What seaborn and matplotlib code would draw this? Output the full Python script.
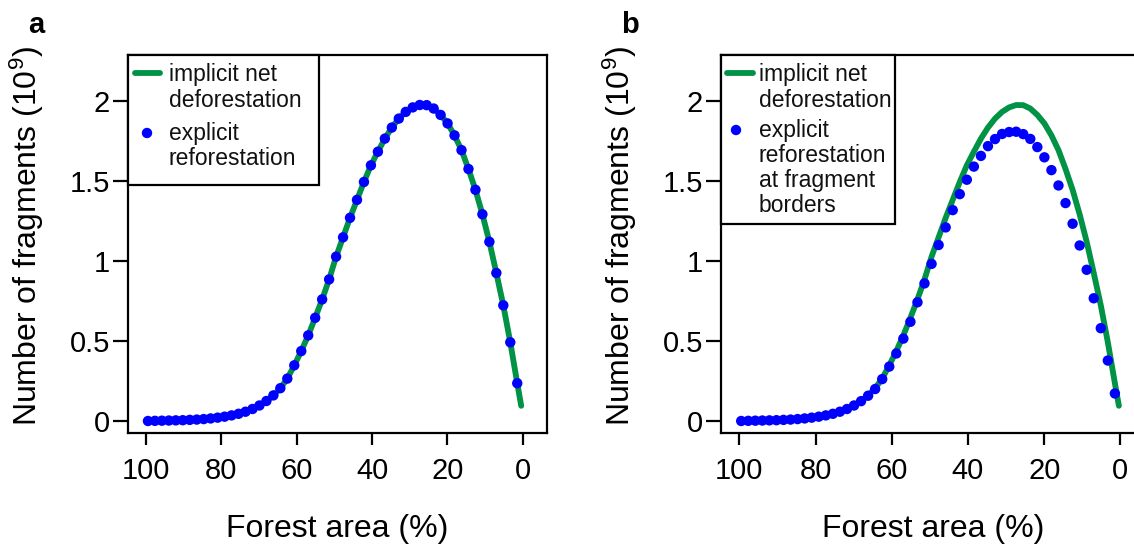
import matplotlib
matplotlib.use("Agg")
import matplotlib.pyplot as plt
import pandas as pd
import seaborn as sns
from matplotlib.patches import Rectangle

# Remaining forest area (%) at each simulation step
forest_area = [99.5, 97.65, 95.8, 93.95, 92.1, 90.25, 88.4, 86.55, 84.7, 82.85,
               81.0, 79.15, 77.3, 75.45, 73.6, 71.75, 69.9, 68.05, 66.2, 64.35,
               62.5, 60.65, 58.8, 56.95, 55.1, 53.25, 51.4, 49.55, 47.7, 45.85,
               44.0, 42.15, 40.3, 38.45, 36.6, 34.75, 32.9, 31.05, 29.2, 27.35,
               25.5, 23.65, 21.8, 19.95, 18.1, 16.25, 14.4, 12.55, 10.7, 8.85,
               7.0, 5.15, 3.3, 1.45]

# Number of fragments (10^9), implicit net deforestation
implicit_net = [0.000, 0.001, 0.002, 0.003, 0.004, 0.005, 0.007, 0.009, 0.012, 0.016,
                0.021, 0.027, 0.035, 0.045, 0.058, 0.075, 0.097, 0.125, 0.160, 0.205,
                0.265, 0.348, 0.437, 0.535, 0.645, 0.760, 0.885, 1.027, 1.148, 1.270,
                1.382, 1.494, 1.598, 1.683, 1.765, 1.834, 1.890, 1.932, 1.960, 1.975,
                1.974, 1.953, 1.913, 1.860, 1.785, 1.693, 1.575, 1.445, 1.292, 1.120,
                0.925, 0.723, 0.492, 0.236]
line_end_area = [0.4]
line_end_value = [0.095]

# Explicit reforestation (panel a)
explicit_reforestation = [0.000, 0.001, 0.002, 0.003, 0.004, 0.005, 0.007, 0.009, 0.012, 0.016,
                          0.021, 0.027, 0.035, 0.045, 0.058, 0.075, 0.097, 0.125, 0.160, 0.205,
                          0.265, 0.348, 0.437, 0.535, 0.645, 0.760, 0.885, 1.027, 1.148, 1.270,
                          1.382, 1.494, 1.598, 1.683, 1.765, 1.834, 1.890, 1.932, 1.960, 1.975,
                          1.974, 1.953, 1.913, 1.860, 1.785, 1.693, 1.575, 1.445, 1.292, 1.120,
                          0.925, 0.723, 0.492, 0.236]

# Explicit reforestation at fragment borders (panel b)
explicit_border = [0.000, 0.001, 0.002, 0.003, 0.004, 0.005, 0.007, 0.009, 0.012, 0.016,
                   0.021, 0.027, 0.035, 0.045, 0.058, 0.075, 0.097, 0.124, 0.158, 0.200,
                   0.262, 0.340, 0.422, 0.515, 0.620, 0.742, 0.860, 0.982, 1.100, 1.210,
                   1.318, 1.418, 1.508, 1.590, 1.657, 1.718, 1.762, 1.794, 1.806, 1.808,
                   1.793, 1.763, 1.712, 1.648, 1.568, 1.472, 1.362, 1.233, 1.097, 0.945,
                   0.767, 0.580, 0.378, 0.172]

x_ticks = [100, 80, 60, 40, 20, 0]
y_ticks = [0, 0.5, 1, 1.5, 2]
y_tick_labels = ["0", "0.5", "1", "1.5", "2"]

GREEN = "#009245"
BLUE = "#0000FF"
FW, FH = 1134, 547

sns.set_style("ticks", rc={
    "axes.edgecolor": "black", "xtick.color": "black", "ytick.color": "black",
    "text.color": "black", "axes.labelcolor": "black",
    "xtick.direction": "out", "ytick.direction": "out",
})
plt.rcParams["font.family"] = ["Liberation Sans", "DejaVu Sans"]
plt.rcParams["mathtext.fontset"] = "custom"
plt.rcParams["mathtext.rm"] = "Liberation Sans"
plt.rcParams["mathtext.it"] = "Liberation Sans:italic"
plt.rcParams["mathtext.bf"] = "Liberation Sans:bold"

line_df = pd.DataFrame({"area": forest_area + line_end_area,
                        "n": implicit_net + line_end_value})

fig = plt.figure(figsize=(FW / 100, FH / 100), dpi=100)

DOT_SIZE = 56
LINE_W = 4.2


def add_panel(left_px, right_px, dots, legend_lines, box, label):
    top_px, bottom_px = 55, 433
    ax = fig.add_axes([left_px / FW, 1 - bottom_px / FH,
                       (right_px - left_px) / FW, (bottom_px - top_px) / FH])
    w = right_px - left_px
    h = bottom_px - top_px

    sns.lineplot(data=line_df, x="area", y="n", color=GREEN, linewidth=LINE_W,
                 estimator=None, solid_capstyle="round", ax=ax, zorder=2)
    sns.scatterplot(x=forest_area, y=dots, color=BLUE, s=DOT_SIZE,
                    edgecolor="none", linewidth=0, ax=ax, zorder=3)

    ax.set_xlim(104.8, -6.45)
    ax.set_ylim(-0.075, 2.2875)
    ax.set_xticks(x_ticks)
    ax.set_yticks(y_ticks)
    ax.set_yticklabels(y_tick_labels)
    for s in ax.spines.values():
        s.set_linewidth(1.6)
        s.set_visible(True)
    ax.tick_params(axis="x", length=8.6, width=1.6, pad=9, labelsize=21)
    ax.tick_params(axis="y", length=10.8, width=1.6, pad=2, labelsize=21)
    ax.set_xlabel("Forest area (%)", fontsize=23)
    ax.set_ylabel("Number of fragments (10$^{9}$)", fontsize=23)
    ax.xaxis.set_label_coords(0.5, (bottom_px - 514) / h)
    ax.yaxis.set_label_coords(-82 / w, 0.52)

    # legend box in the upper-left corner
    bx1, by1 = box
    ax.add_patch(Rectangle((0, (bottom_px - by1) / h), (bx1 - left_px) / w,
                           (by1 - top_px) / h, transform=ax.transAxes,
                           facecolor="white", edgecolor="black", linewidth=1.6,
                           zorder=5, clip_on=False))
    hx0, hx1, dot_x, text_x = legend_lines["handle"]
    ax.plot([(hx0 - left_px) / w, (hx1 - left_px) / w],
            [(bottom_px - 73) / h] * 2, transform=ax.transAxes, color=GREEN,
            linewidth=LINE_W, solid_capstyle="round", zorder=6, clip_on=False)
    ax.scatter([(dot_x - left_px) / w], [(bottom_px - legend_lines["dot_y"]) / h],
               transform=ax.transAxes, s=DOT_SIZE, color=BLUE, edgecolor="none",
               zorder=6, clip_on=False)
    for txt, base in legend_lines["text"]:
        ax.text((text_x - left_px) / w, (bottom_px - base) / h, txt,
                transform=ax.transAxes, fontsize=16.5, color="#111111",
                ha="left", va="baseline", zorder=7)

    fig.text((left_px - 100) / FW, 1 - 33 / FH, label, fontsize=21,
             fontweight="bold", ha="left", va="baseline")
    return ax


add_panel(128, 547, explicit_reforestation,
          {"handle": (135, 160, 147, 169), "dot_y": 133,
           "text": [("implicit net", 81), ("deforestation", 107),
                    ("explicit", 140), ("reforestation", 165)]},
          (319, 185), "a")

add_panel(721, 1145, explicit_border,
          {"handle": (727, 753, 736, 759), "dot_y": 130,
           "text": [("implicit net", 81), ("deforestation", 107),
                    ("explicit", 137), ("reforestation", 162),
                    ("at fragment", 187), ("borders", 212)]},
          (895, 224), "b")

fig.savefig("out.png", dpi=100)
